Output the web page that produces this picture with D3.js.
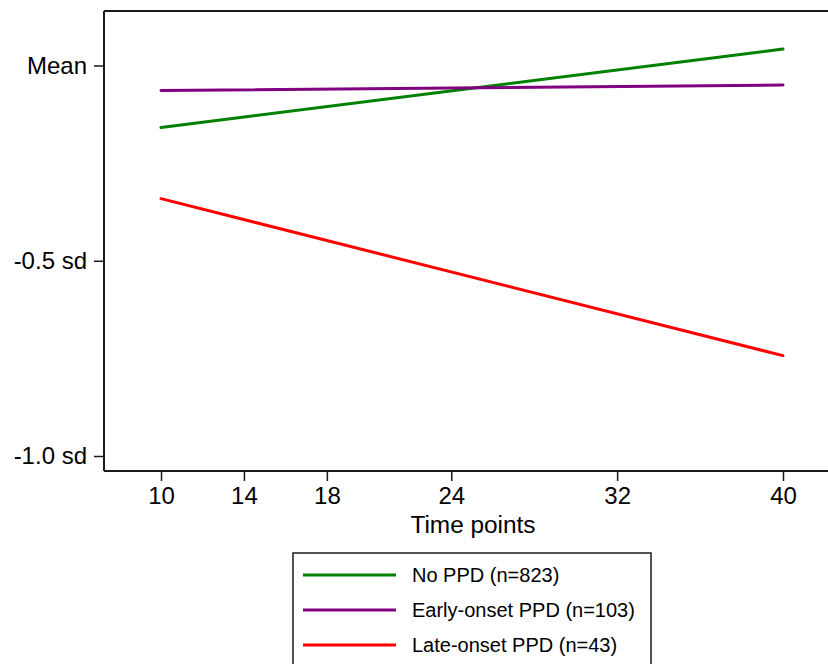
<!DOCTYPE html>
<html>
<head>
<meta charset="utf-8">
<script src="https://cdn.jsdelivr.net/npm/d3@7/dist/d3.min.js"></script>
<style>
html,body{margin:0;padding:0;background:#fff;}
svg{display:block;font-family:"Liberation Sans",Arial,sans-serif;}
</style>
</head>
<body>
<svg id="chart" width="828" height="664"></svg>
<script>
const timePoints = [10, 40];
const seriesNames = ["No PPD (n=823)", "Early-onset PPD (n=103)", "Late-onset PPD (n=43)"];
const seriesColors = ["#008000", "#800080", "#ff0000"];
const noPPD = [-0.159, 0.042];
const earlyOnset = [-0.064, -0.050];
const lateOnset = [-0.341, -0.743];
const xTicks = [10, 14, 18, 24, 32, 40];
const yTicks = [0, -0.5, -1.0];
const yTickLabels = ["Mean", "-0.5 sd", "-1.0 sd"];
const xTitle = "Time points";

(function () {
const svg = d3.select("#chart");
const pLeft = 104, pTop = 11, pBottom = 471, pRight = 840;
const x = d3.scaleLinear().domain([7.25, 42.75]).range([pLeft, pRight]);
const y = d3.scaleLinear().domain([0, -1]).range([65.5, 456]);

const frameColor = "#1a1a1a";
svg.append("line").attr("x1", pLeft).attr("x2", pRight).attr("y1", pTop).attr("y2", pTop)
  .attr("stroke", frameColor).attr("stroke-width", 2);

const yAxis = d3.axisLeft(y).tickValues(yTicks).tickSize(10).tickPadding(7)
  .tickFormat((d, i) => yTickLabels[i]);
const gy = svg.append("g").attr("transform", `translate(${pLeft},0)`).call(yAxis);
gy.select(".domain").remove();
gy.append("line").attr("x1", 0).attr("x2", 0).attr("y1", pTop).attr("y2", pBottom)
  .attr("stroke", frameColor).attr("stroke-width", 2);
gy.selectAll(".tick line").attr("stroke", frameColor).attr("stroke-width", 1.5);
gy.selectAll(".tick text").attr("font-size", 24).attr("fill", "#000")
  .attr("font-family", "Liberation Sans, Arial, sans-serif");

const xAxis = d3.axisBottom(x).tickValues(xTicks).tickSize(10).tickPadding(6)
  .tickFormat(d3.format("d"));
const gx = svg.append("g").attr("transform", `translate(0,${pBottom})`).call(xAxis);
gx.select(".domain").remove();
gx.append("line").attr("x1", pLeft).attr("x2", pRight).attr("y1", 0).attr("y2", 0)
  .attr("stroke", frameColor).attr("stroke-width", 2);
gx.selectAll(".tick line").attr("stroke", frameColor).attr("stroke-width", 1.5);
gx.selectAll(".tick text").attr("font-size", 24).attr("fill", "#000")
  .attr("font-family", "Liberation Sans, Arial, sans-serif");

svg.append("text").attr("x", 473).attr("y", 533).attr("text-anchor", "middle")
  .attr("font-size", 24.4).attr("fill", "#000").text(xTitle);

const allSeries = [noPPD, earlyOnset, lateOnset];
const line = d3.line().x((d, i) => x(timePoints[i])).y(d => y(d));
allSeries.forEach((s, k) => {
  svg.append("path").datum(s).attr("d", line).attr("fill", "none")
    .attr("stroke", seriesColors[k]).attr("stroke-width", 3).attr("stroke-linecap", "round");
});

const lg = svg.append("g");
lg.append("rect").attr("x", 293).attr("y", 553).attr("width", 358).attr("height", 130)
  .attr("fill", "#fff").attr("stroke", frameColor).attr("stroke-width", 1.5);
seriesNames.forEach((name, k) => {
  const yy = 575 + k * 35;
  lg.append("line").attr("x1", 303).attr("x2", 396).attr("y1", yy).attr("y2", yy)
    .attr("stroke", seriesColors[k]).attr("stroke-width", 3);
  lg.append("text").attr("x", 412).attr("y", yy).attr("dy", "0.35em")
    .attr("font-size", 20).attr("fill", "#000").text(name);
});
})();
</script>
</body>
</html>
